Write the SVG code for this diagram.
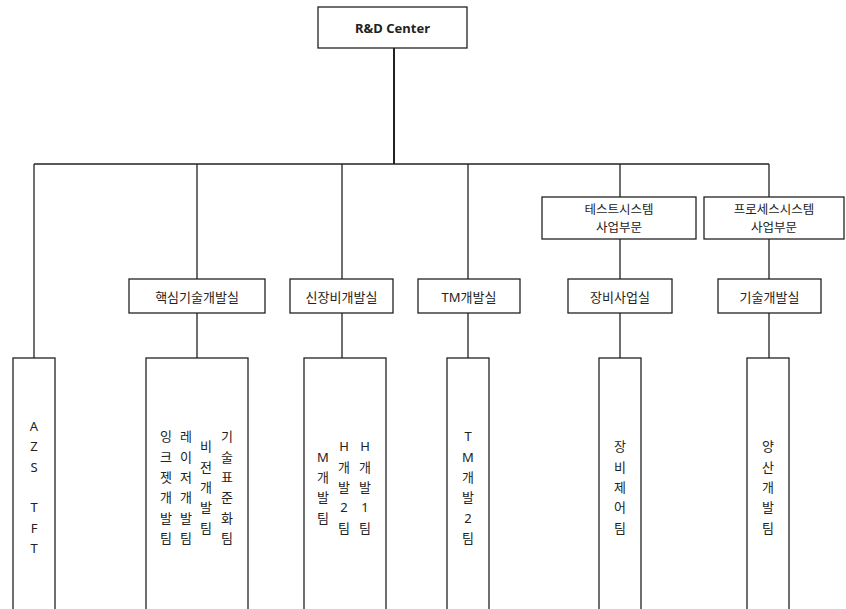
<svg xmlns="http://www.w3.org/2000/svg" width="846" height="609" viewBox="0 0 846 609">
<style>
.box{fill:#fff;stroke:#222;stroke-width:1.3}
.ln{fill:none;stroke:#222;stroke-width:1.3}
.t{font-family:"Noto Sans","Noto Sans CJK KR",sans-serif;font-size:13px;fill:#222;text-anchor:middle;dominant-baseline:central}
.s{font-size:12.5px}
.b{font-weight:bold}
</style>
<rect width="846" height="609" fill="#fff"/>
<g id="connectors">
<path class="ln" style="stroke-width:2" d="M394 48V164"/>
<path class="ln" style="stroke-width:1.6" d="M34 164H769"/>
<path class="ln" d="M34 164V358"/>
<path class="ln" d="M197 164V279M197 313V358"/>
<path class="ln" d="M342 164V279M342 313V358"/>
<path class="ln" d="M468 164V279M468 313V358"/>
<path class="ln" d="M620 164V197M620 239V279M620 313V358"/>
<path class="ln" d="M769 164V197M769 239V279M769 313V358"/>
</g>
<g id="rd-center">
<rect class="box" x="318" y="7" width="149" height="41"/>
<text class="t b" x="392.5" y="27.5">R&amp;D Center</text>
</g>
<g id="test-system">
<rect class="box" x="542" y="197" width="154" height="42"/>
<text class="t s" x="619" y="209">테스트시스템</text>
<text class="t s" x="619" y="227.5">사업부문</text>
</g>
<g id="process-system">
<rect class="box" x="704" y="197" width="140" height="42"/>
<text class="t s" x="774" y="209">프로세스시스템</text>
<text class="t s" x="774" y="227.5">사업부문</text>
</g>
<g id="core-tech">
<rect class="box" x="129" y="279" width="136" height="34"/>
<text class="t" x="197" y="296.5">핵심기술개발실</text>
</g>
<g id="new-equip">
<rect class="box" x="290" y="279" width="103" height="34"/>
<text class="t" x="341.5" y="296.5">신장비개발실</text>
</g>
<g id="tm-dev">
<rect class="box" x="418" y="279" width="102" height="34"/>
<text class="t" x="469" y="296.5">TM개발실</text>
</g>
<g id="equip-biz">
<rect class="box" x="568" y="279" width="104" height="34"/>
<text class="t" x="620" y="296.5">장비사업실</text>
</g>
<g id="tech-dev">
<rect class="box" x="718" y="279" width="103" height="34"/>
<text class="t" x="769.5" y="296.5">기술개발실</text>
</g>
<g id="azs-tft">
<rect class="box" x="13" y="358" width="42" height="270"/>
<text class="t" x="34" y="426.1"><tspan x="34">A</tspan><tspan x="34" dy="20.3">Z</tspan><tspan x="34" dy="20.3">S</tspan><tspan x="34" dy="40.6">T</tspan><tspan x="34" dy="20.3">F</tspan><tspan x="34" dy="20.3">T</tspan></text>
</g>
<g id="core-teams">
<rect class="box" x="146" y="358" width="102" height="270"/>
<text class="t" x="166" y="436.3"><tspan x="166">잉</tspan><tspan x="166" dy="20.3">크</tspan><tspan x="166" dy="20.3">젯</tspan><tspan x="166" dy="20.3">개</tspan><tspan x="166" dy="20.3">발</tspan><tspan x="166" dy="20.3">팀</tspan></text>
<text class="t" x="186" y="436.3"><tspan x="186">레</tspan><tspan x="186" dy="20.3">이</tspan><tspan x="186" dy="20.3">저</tspan><tspan x="186" dy="20.3">개</tspan><tspan x="186" dy="20.3">발</tspan><tspan x="186" dy="20.3">팀</tspan></text>
<text class="t" x="206" y="446.4"><tspan x="206">비</tspan><tspan x="206" dy="20.3">전</tspan><tspan x="206" dy="20.3">개</tspan><tspan x="206" dy="20.3">발</tspan><tspan x="206" dy="20.3">팀</tspan></text>
<text class="t" x="227" y="436.3"><tspan x="227">기</tspan><tspan x="227" dy="20.3">술</tspan><tspan x="227" dy="20.3">표</tspan><tspan x="227" dy="20.3">준</tspan><tspan x="227" dy="20.3">화</tspan><tspan x="227" dy="20.3">팀</tspan></text>
</g>
<g id="new-equip-teams">
<rect class="box" x="304" y="358" width="82" height="270"/>
<text class="t" x="323" y="456.6"><tspan x="323">M</tspan><tspan x="323" dy="20.3">개</tspan><tspan x="323" dy="20.3">발</tspan><tspan x="323" dy="20.3">팀</tspan></text>
<text class="t" x="344" y="446.4"><tspan x="344">H</tspan><tspan x="344" dy="20.3">개</tspan><tspan x="344" dy="20.3">발</tspan><tspan x="344" dy="20.3">2</tspan><tspan x="344" dy="20.3">팀</tspan></text>
<text class="t" x="365" y="446.4"><tspan x="365">H</tspan><tspan x="365" dy="20.3">개</tspan><tspan x="365" dy="20.3">발</tspan><tspan x="365" dy="20.3">1</tspan><tspan x="365" dy="20.3">팀</tspan></text>
</g>
<g id="tm-teams">
<rect class="box" x="447" y="358" width="42" height="270"/>
<text class="t" x="468" y="436.3"><tspan x="468">T</tspan><tspan x="468" dy="20.3">M</tspan><tspan x="468" dy="20.3">개</tspan><tspan x="468" dy="20.3">발</tspan><tspan x="468" dy="20.3">2</tspan><tspan x="468" dy="20.3">팀</tspan></text>
</g>
<g id="equip-ctrl">
<rect class="box" x="599" y="358" width="42" height="270"/>
<text class="t" x="620" y="446.4"><tspan x="620">장</tspan><tspan x="620" dy="20.3">비</tspan><tspan x="620" dy="20.3">제</tspan><tspan x="620" dy="20.3">어</tspan><tspan x="620" dy="20.3">팀</tspan></text>
</g>
<g id="mass-prod">
<rect class="box" x="747" y="358" width="42" height="270"/>
<text class="t" x="768" y="446.4"><tspan x="768">양</tspan><tspan x="768" dy="20.3">산</tspan><tspan x="768" dy="20.3">개</tspan><tspan x="768" dy="20.3">발</tspan><tspan x="768" dy="20.3">팀</tspan></text>
</g>
</svg>
